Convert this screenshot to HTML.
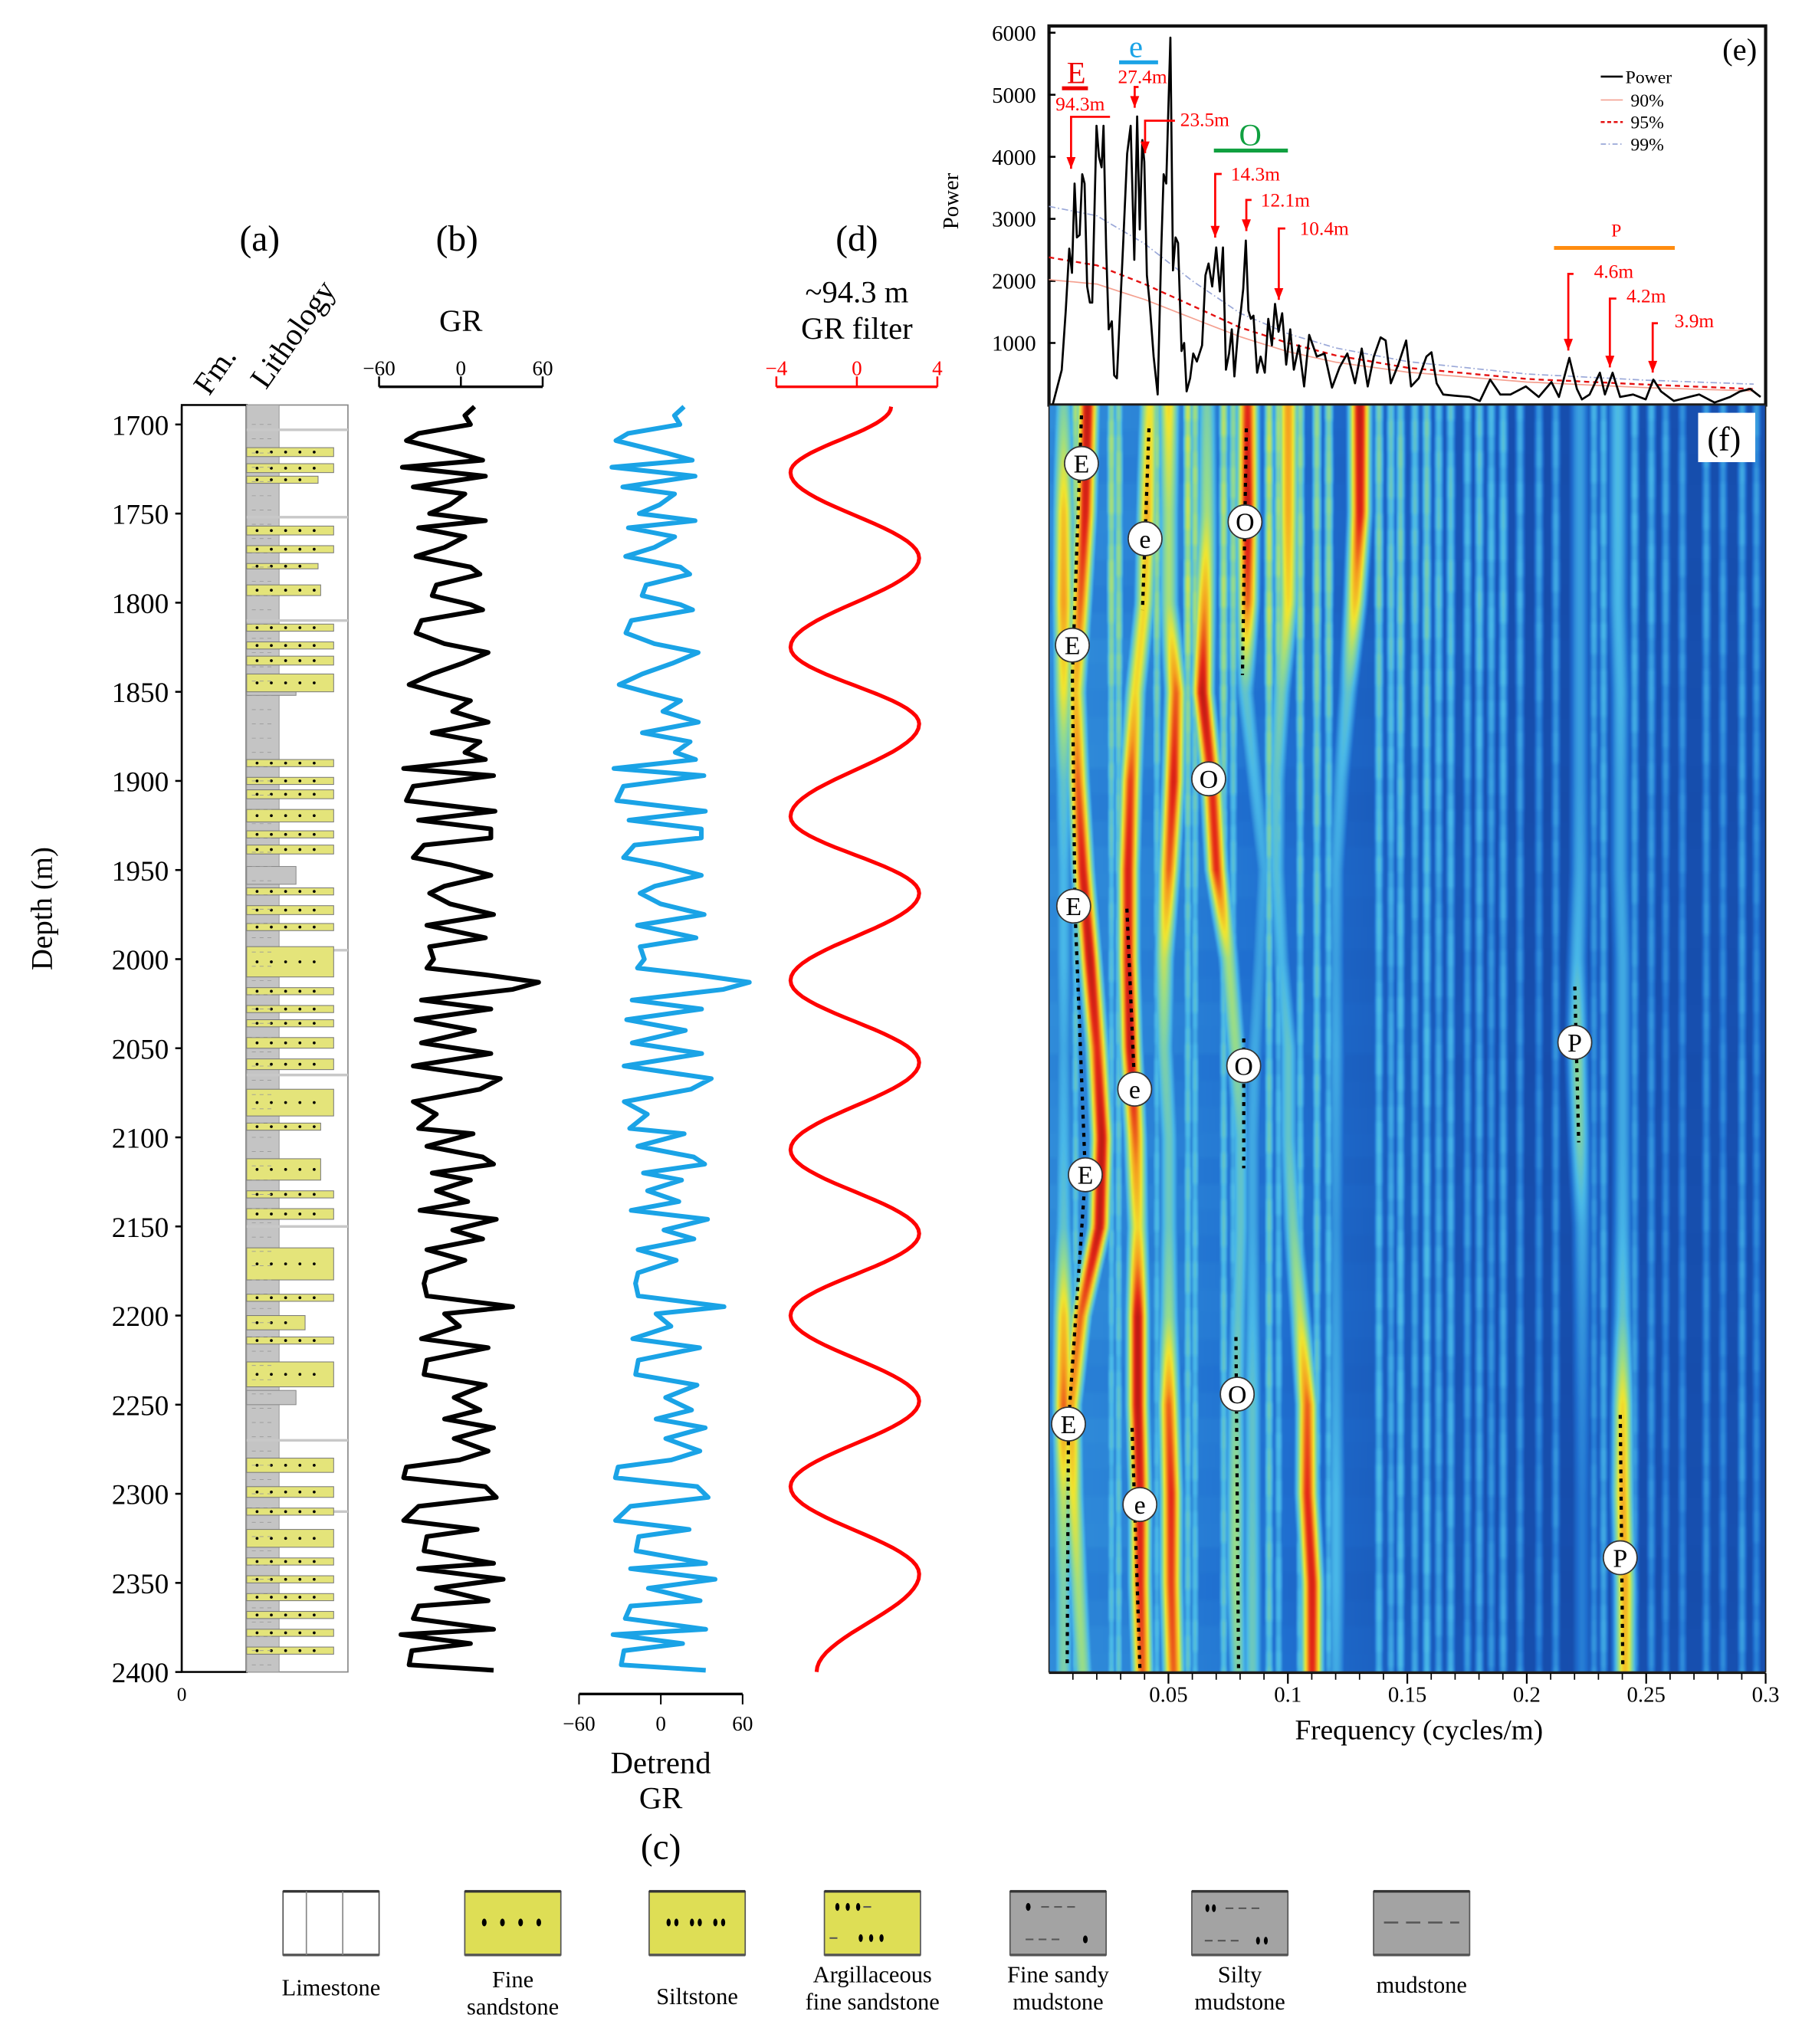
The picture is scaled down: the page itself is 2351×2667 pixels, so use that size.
<!DOCTYPE html>
<html><head><meta charset="utf-8"><style>
html,body{margin:0;padding:0;background:#fff;}
#wrap{position:relative;width:2351px;height:2667px;overflow:hidden;}
svg{position:absolute;left:0;top:0;}
#hm{position:absolute;image-rendering:auto;}
text{font-family:"Liberation Serif",serif;}
</style></head><body>
<div id="wrap">
<svg id="base" width="2351" height="2667" viewBox="0 0 1388 1574.6" preserveAspectRatio="none"></svg>
<canvas id="hm" width="552" height="244"></canvas>
<svg id="over" width="2351" height="2667" viewBox="0 0 1388 1574.6" preserveAspectRatio="none"></svg>
</div>
<script>
// ---------------- DATA ----------------
const grDepths=[1690,1695,1700,1705,1709,1716,1720,1724,1729,1735,1739,1745,1750,1754,1758,1763,1769,1774,1780,1784,1790,1796,1801,1804,1810,1817,1823,1828,1834,1840,1846,1851,1855,1861,1867,1873,1878,1884,1888,1893,1897,1903,1911,1917,1922,1927,1932,1936,1943,1947,1953,1959,1963,1969,1975,1981,1988,1993,2000,2005,2009,2013,2017,2023,2028,2034,2040,2047,2053,2060,2067,2073,2080,2087,2095,2098,2105,2111,2115,2120,2124,2130,2136,2141,2146,2152,2157,2163,2169,2176,2182,2189,2195,2199,2206,2213,2218,2225,2233,2239,2246,2253,2258,2263,2269,2276,2281,2285,2291,2296,2302,2307,2315,2320,2324,2332,2339,2342,2348,2353,2360,2363,2370,2376,2379,2384,2388,2396,2399];
const grValues=[10,3,7,-31,-40,-3,16,-43,18,-35,3,-8,-23,18,-31,3,-12,-33,7,14,-18,-21,7,16,-29,-33,-12,20,1,-21,-38,-14,7,-6,20,-21,14,3,18,-42,24,-35,-40,25,-31,22,22,-27,-35,-8,22,-12,-23,-8,24,-25,18,-23,-20,-25,20,57,38,-29,22,-33,10,-29,22,-35,29,14,-35,-18,-31,9,-25,16,24,-21,7,-18,5,-30,26,-6,16,-25,3,-25,-27,-25,38,-12,-1,-29,20,-25,-27,18,-5,14,-12,24,-5,20,-1,-40,-42,18,26,-31,-42,12,-25,-27,24,-31,31,-18,20,-31,-35,24,-44,7,-36,-38,24];
const trendDepths=[1690,2400];
const trendValues=[-7,-9];
const filtDepths=[1690,1727,1775,1825,1868,1920,1963,2012,2058,2107,2154,2200,2248,2296,2345,2400];
const filtValues=[1.7,-3.3,3.1,-3.3,3.1,-3.3,3.1,-3.3,3.1,-3.3,3.1,-3.3,3.1,-3.3,3.1,-2.0];
const depthTicks=[1700,1750,1800,1850,1900,1950,2000,2050,2100,2150,2200,2250,2300,2350,2400];
// spectrum
const specFreq=[.0015,.0053,.0070,.0085,.0096,.0107,.0117,.0128,.0139,.0149,.0160,.0171,.0181,.0199,.0209,.0220,.0228,.0239,.0250,.0263,.0273,.0284,.0310,.0327,.0342,.0357,.0369,.0380,.0391,.0399,.0410,.0421,.0438,.0455,.0470,.0480,.0491,.0508,.0519,.0530,.0540,.0555,.0566,.0576,.0591,.0604,.0619,.0641,.0655,.0668,.0683,.0700,.0715,.0728,.0741,.0754,.0765,.0776,.0790,.0803,.0813,.0824,.0835,.0845,.0856,.0871,.0886,.0903,.0918,.0933,.0946,.0961,.0976,.0993,.1010,.1025,.1046,.1068,.1089,.1121,.1153,.1185,.1217,.1249,.1281,.1309,.1334,.1360,.1388,.1409,.1431,.1462,.1495,.1516,.1548,.1580,.1601,.1623,.1650,.1697,.1761,.1804,.1847,.1889,.1932,.1996,.2050,.2103,.2135,.2178,.2210,.2231,.2263,.2306,.2327,.2359,.2391,.2445,.2498,.2530,.2562,.2616,.2680,.2722,.2786,.2851,.2893,.2936,.2979];
const specPower=[0,565,1520,2520,2130,3570,2700,2740,3720,3570,1910,1650,1650,4500,4000,3830,4500,2540,1220,1350,480,430,2540,4050,4500,2340,4650,2830,4270,3920,2090,1650,780,170,2540,3720,3570,5920,2170,2700,2610,870,1000,220,430,830,700,960,2090,2280,1910,2540,1830,2540,570,830,1220,460,1130,1520,1870,2650,1520,1390,1440,520,780,520,1390,960,1630,1180,1480,650,1220,570,960,300,1130,780,830,280,610,830,350,910,300,780,1090,1040,350,650,1040,300,430,780,850,350,170,150,130,65,410,170,170,300,130,370,130,760,260,90,170,520,170,520,130,170,90,410,220,65,130,170,40,130,220,260,130];
const confFreq=[0,.02,.04,.06,.08,.1,.12,.15,.2,.25,.3];
const conf99=[3200,3050,2600,2000,1480,1150,920,700,500,400,330];
const conf95=[2380,2250,1950,1600,1250,1000,800,600,420,330,250];
const conf90=[2020,1950,1700,1400,1100,860,690,530,370,280,220];
const powerTicks=[1000,2000,3000,4000,5000,6000];
const freqTicks=[0.05,0.1,0.15,0.2,0.25,0.3];
// heatmap ridges (depth nodes)
const hmDepths=[1690,1750,1800,1850,1900,1950,2000,2050,2100,2150,2200,2250,2300,2350,2400];
const ridgeE_f=[.016,.015,.013,.011,.012,.014,.017,.02,.022,.021,.013,.009,.01,.012,.014];
const ridgeE_i=[.95,.92,.85,.75,.85,.92,.95,.9,.95,.95,.85,.8,.7,.62,.6];
const ridgeE2_f=[.006,.006,.006,.006,.006,.006,.006,.006,.006,.006,.006,.006,.006,.006,.006];
const ridgeE2_i=[.55,.75,.8,.7,.5,.45,.45,.42,.45,.5,.75,.85,.65,.55,.55];
const ridgee_f=[.042,.041,.04,.036,.034,.033,.033,.034,.036,.037,.037,.037,.038,.038,.039];
const ridgee_i=[.7,.78,.72,.72,.88,.92,.92,.95,.85,.72,.95,.95,.92,.9,.85];
const ridge3_f=[.05,.05,.05,.053,.052,.05,.048,.048,.05,.05,.05,.05,.051,.051,.052];
const ridge3_i=[.72,.62,.62,.85,.92,.85,.65,.55,.52,.52,.6,.85,.9,.88,.85];
const ridgeO_f=[.066,.066,.065,.064,.068,.07,.075,.078,.08,.08,.079,.078,.078,.078,.079];
const ridgeO_i=[.55,.62,.8,.95,.9,.9,.62,.6,.5,.5,.5,.55,.6,.6,.55];
const ridge5_f=[.083,.083,.083,.082,.086,.09,.088,.086,.085,.085,.085,.085,.085,.085,.085];
const ridge5_i=[.9,.95,.85,.5,.45,.42,.4,.42,.42,.42,.45,.5,.5,.52,.52];
const ridge6_f=[.1,.1,.1,.097,.095,.095,.097,.1,.1,.102,.105,.108,.108,.11,.11];
const ridge6_i=[.8,.78,.72,.55,.5,.48,.45,.5,.5,.55,.65,.85,.9,.92,.9];
const ridge7_f=[.13,.13,.128,.125,.122,.12,.12,.12,.12,.12,.12,.12,.12,.12,.12];
const ridge7_i=[.95,.92,.75,.5,.44,.42,.4,.42,.4,.38,.4,.42,.45,.45,.42];
const ridgeP1_f=[.222,.222,.222,.222,.222,.222,.221,.221,.222,.223,.223,.223,.223,.223,.223];
const ridgeP1_i=[.4,.4,.4,.4,.4,.42,.45,.58,.55,.42,.38,.35,.33,.33,.33];
const ridgeP2_f=[.238,.238,.238,.239,.239,.239,.24,.24,.24,.24,.24,.24,.24,.241,.241];
const ridgeP2_i=[.46,.46,.45,.44,.42,.42,.42,.42,.42,.44,.5,.72,.78,.78,.75];
const texFreq=[.011,.026,.029,.045,.058,.061,.073,.077,.092,.096,.105,.112,.117,.138,.143,.147,.153,.158,.163,.168,.175,.18,.185,.19,.197,.205,.212,.228,.232,.245,.252,.258,.265,.275,.282,.29,.296];
const texIntUpper=[.62,.62,.6,.6,.66,.62,.64,.6,.66,.62,.6,.6,.58,.56,.52,.55,.5,.54,.5,.5,.46,.5,.46,.48,.44,.42,.42,.44,.45,.45,.44,.42,.4,.42,.4,.42,.4];
const texIntLower=[.5,.48,.5,.46,.5,.48,.5,.46,.52,.46,.48,.5,.46,.46,.42,.46,.42,.46,.42,.44,.4,.42,.38,.42,.38,.36,.38,.38,.42,.4,.38,.36,.36,.38,.36,.4,.36];
const upperWeight=[1,1,1,.6,.3,.15,0,0,0,0,0,0,0,0,0];
const bandMod=[1,.85,.7,.9,1,.95,.75,.6,.8,1,.9,.8,.95,1,.7,.55,.75,.95,1,.85,.9,.7,.8,1,.95,.65,.8,.9,1,.75];
const bgFreq=[0,.05,.1,.15,.2,.3];
const bgVal=[.36,.34,.3,.24,.19,.2];
// lithology beds [top,bottom,rightX] fine sandstone
const sandTop=[1713,1722,1729,1757,1768,1778,1790,1812,1822,1830,1840,1888,1898,1905,1916,1928,1936,1960,1970,1980,1993,2016,2026,2034,2044,2056,2073,2092,2112,2130,2140,2162,2188,2200,2212,2226,2280,2296,2308,2320,2336,2346,2356,2366,2376,2386];
const sandBot=[1718,1727,1733,1762,1772,1781,1796,1816,1826,1835,1850,1892,1902,1910,1923,1932,1941,1964,1975,1984,2010,2020,2030,2038,2050,2062,2088,2096,2124,2134,2146,2180,2192,2208,2216,2240,2288,2302,2312,2330,2340,2350,2360,2370,2380,2390];
const sandRight=[257,257,245,257,257,245,247,257,257,257,257,257,257,257,257,257,257,257,257,257,257,257,257,257,257,257,257,247,247,257,257,257,257,235,257,257,257,257,257,257,257,257,257,257,257,257];
const mudTop=[1846,1948,2242];
const mudBot=[1852,1958,2250];
const lineDepths=[1703,1752,1810,1995,2065,2150,2270,2310];

// ---------------- HELPERS ----------------
const NS="http://www.w3.org/2000/svg";
const base=document.getElementById('base');
const over=document.getElementById('over');
function el(tag,attrs,parent){const e=document.createElementNS(NS,tag);for(const k in attrs)e.setAttribute(k,attrs[k]);(parent||base).appendChild(e);return e;}
function txt(s,x,y,size,attrs,parent){const t=el('text',Object.assign({x:x,y:y,'font-size':size,'text-anchor':'middle'},attrs||{}),parent);t.textContent=s;return t;}
const yD=d=>327+(d-1700)*1.3729;
const xGR=v=>355+v*63/60;
const xDT=v=>509+v*63/60;
const xFL=v=>660+v*15.5;
const xF=f=>808+f*1840;
const yP=p=>312-p*0.0478;
function interp(xs,ys,x){if(x<=xs[0])return ys[0];for(let i=1;i<xs.length;i++){if(x<=xs[i]){const t=(x-xs[i-1])/(xs[i]-xs[i-1]);return ys[i-1]+t*(ys[i]-ys[i-1]);}}return ys[ys.length-1];}

// ---------------- PANEL LABELS ----------------
let t;
t=txt('(a)',200,193,28);
t=txt('(b)',352,193,28);
t=txt('(d)',660,193,28);
t=txt('GR',355,255,24);
t=txt('~94.3 m',660,233,24);
t=txt('GR filter',660,261,24);
t=txt('Fm.',172,290,24,{transform:'rotate(-55 172 290)','text-anchor':'middle'});
t=txt('Lithology',232,262,24,{transform:'rotate(-55 232 262)'});
t=txt('Depth (m)',40,700,23,{transform:'rotate(-90 40 700)'});
t=txt('Upper Zhujiang Fomation',172,800,30,{transform:'rotate(-90 172 800)'});
t=txt('Detrend',509,1366,24);
t=txt('GR',509,1393,24);
t=txt('(c)',509,1432,28);

// depth axis
const dAxis=el('g',{});
el('line',{x1:140,y1:yD(1690),x2:140,y2:1288,stroke:'#000','stroke-width':1.5},dAxis);
depthTicks.forEach(d=>{
  el('line',{x1:135,y1:yD(d),x2:140,y2:yD(d),stroke:'#000','stroke-width':1.5},dAxis);
  const tl=txt(String(d),130,yD(d)+8,22,{'text-anchor':'end'},dAxis);
  
  
});
t=txt('0',140,1310,15,{},dAxis);

// Fm & lithology columns
const lith=el('g',{});
el('rect',{x:140,y:312,width:50,height:976,fill:'#fff',stroke:'#000','stroke-width':1.5},lith);
el('rect',{x:190,y:312,width:78,height:976,fill:'#fff',stroke:'#888','stroke-width':1},lith);
el('rect',{x:190,y:312,width:25,height:976,fill:'#c4c4c4',stroke:'#999','stroke-width':0.6},lith);
lineDepths.forEach(d=>{el('line',{x1:190,y1:yD(d),x2:268,y2:yD(d),stroke:'#c8c8c8','stroke-width':2},lith);});
for(let i=0;i<mudTop.length;i++){el('rect',{x:190,y:yD(mudTop[i]),width:38,height:yD(mudBot[i])-yD(mudTop[i]),fill:'#c4c4c4',stroke:'#888','stroke-width':0.6},lith);}
for(let i=0;i<sandTop.length;i++){
  const y0=yD(sandTop[i]),h=yD(sandBot[i])-y0;
  const r=el('rect',{x:190,y:y0,width:sandRight[i]-190,height:h,fill:'#e4e47a',stroke:'#777','stroke-width':0.6},lith);
  
  
  for(let x=198;x<sandRight[i]-4;x+=11){el('circle',{cx:x,cy:y0+h/2,r:1.1,fill:'#000'},lith);}
}
for(let d=1700;d<2400;d+=8){el('line',{x1:194,y1:yD(d),x2:212,y2:yD(d),stroke:'#999','stroke-width':0.5,'stroke-dasharray':'3 3'},lith);}

// GR axis
const grAx=el('g',{});
el('line',{x1:xGR(-60),y1:298,x2:xGR(60),y2:298,stroke:'#000','stroke-width':2},grAx);
[-60,0,60].forEach(v=>{el('line',{x1:xGR(v),y1:298,x2:xGR(v),y2:290,stroke:'#000','stroke-width':1.5},grAx);txt(v<0?'\u221260':String(v),xGR(v),289,16,{},grAx);});
// GR curve
let dp='';
for(let i=0;i<grDepths.length;i++){dp+=(i?'L':'M')+xGR(grValues[i]).toFixed(1)+' '+yD(grDepths[i]).toFixed(1);}
const grLine=el('path',{d:dp,fill:'none',stroke:'#000','stroke-width':3.6,'stroke-linejoin':'round'});

// Detrend curve
dp='';
for(let i=0;i<grDepths.length;i++){const v=grValues[i]-interp(trendDepths,trendValues,grDepths[i]);dp+=(i?'L':'M')+xDT(v).toFixed(1)+' '+yD(grDepths[i]).toFixed(1);}
const dtLine=el('path',{d:dp,fill:'none',stroke:'#1aa3e6','stroke-width':3.6,'stroke-linejoin':'round'});

const dtAx=el('g',{});
el('line',{x1:xDT(-60),y1:1305,x2:xDT(60),y2:1305,stroke:'#000','stroke-width':2},dtAx);
[-60,0,60].forEach(v=>{el('line',{x1:xDT(v),y1:1305,x2:xDT(v),y2:1313,stroke:'#000','stroke-width':1.2},dtAx);txt(v<0?'\u221260':String(v),xDT(v),1333,16,{},dtAx);});
// Filter axis + curve
const flAx=el('g',{});
el('line',{x1:xFL(-4),y1:298,x2:xFL(4),y2:298,stroke:'#f00','stroke-width':2},flAx);
[-4,0,4].forEach(v=>{el('line',{x1:xFL(v),y1:298,x2:xFL(v),y2:290,stroke:'#f00','stroke-width':1.5},flAx);txt(v<0?'\u22124':String(v),xFL(v),289,16,{fill:'#f00'},flAx);});
dp='';
for(let i=0;i<filtDepths.length-1;i++){
  for(let k=0;k<=20;k++){const s=k/20;const d=filtDepths[i]+s*(filtDepths[i+1]-filtDepths[i]);const v=filtValues[i]+(filtValues[i+1]-filtValues[i])*(1-Math.cos(Math.PI*s))/2;dp+=(dp?'L':'M')+xFL(v).toFixed(1)+' '+yD(d).toFixed(1);}
}
const flLine=el('path',{d:dp,fill:'none',stroke:'#f00','stroke-width':3});


// ---------------- SPECTRUM (e) ----------------
const spec=el('g',{});
el('rect',{x:808,y:20,width:552,height:292,fill:'#fff',stroke:'#111','stroke-width':2.5},spec);
t=txt('Power',738,155,17,{transform:'rotate(-90 738 155)'},spec);
powerTicks.forEach(p=>{el('line',{x1:808,y1:yP(p),x2:813,y2:yP(p),stroke:'#000','stroke-width':1.5},spec);const l=txt(String(p),798,yP(p)+6,17,{'text-anchor':'end'},spec);});
function confPath(arr,attrs,name){let d='';for(let f=0;f<=0.3;f+=0.005){d+=(d?'L':'M')+xF(f).toFixed(1)+' '+yP(interp(confFreq,arr,f)).toFixed(1);}const p=el('path',Object.assign({d:d,fill:'none'},attrs),spec);}
confPath(conf90,{stroke:'#f4a090','stroke-width':1},'conf-90-line');
confPath(conf95,{stroke:'#e41010','stroke-width':1.4,'stroke-dasharray':'4 3'},'conf-95-line');
confPath(conf99,{stroke:'#9aa8d8','stroke-width':1,'stroke-dasharray':'5 2 1 2'},'conf-99-line');
dp='';
for(let i=0;i<specFreq.length;i++){dp+=(i?'L':'M')+xF(specFreq[i]).toFixed(1)+' '+yP(specPower[i]).toFixed(1);}
const sp=el('path',{d:dp,fill:'none',stroke:'#000','stroke-width':1.6,'stroke-linejoin':'round'},spec);

t=txt('(e)',1340,46,24,{},spec);
// legend
const lg=el('g',{},spec);
el('line',{x1:1233,y1:59,x2:1250,y2:59,stroke:'#000','stroke-width':1.5},lg);txt('Power',1252,64,14,{'text-anchor':'start'},lg);
el('line',{x1:1233,y1:77,x2:1250,y2:77,stroke:'#f4a090','stroke-width':1},lg);txt('90%',1256,82,14,{'text-anchor':'start'},lg);
el('line',{x1:1233,y1:94,x2:1250,y2:94,stroke:'#e41010','stroke-width':1.5,'stroke-dasharray':'3 2'},lg);txt('95%',1256,99,14,{'text-anchor':'start'},lg);
el('line',{x1:1233,y1:111,x2:1250,y2:111,stroke:'#9aa8d8','stroke-width':1,'stroke-dasharray':'4 2 1 2'},lg);txt('99%',1256,116,14,{'text-anchor':'start'},lg);
// annotations
const an=el('g',{},spec);
function arrow(pts){let d='';pts.forEach((p,i)=>d+=(i?'L':'M')+p[0]+' '+p[1]);el('path',{d:d,fill:'none',stroke:'#f00','stroke-width':1.6},an);const e=pts[pts.length-1];el('path',{d:`M${e[0]-3.5} ${e[1]-9}L${e[0]+3.5} ${e[1]-9}L${e[0]} ${e[1]}Z`,fill:'#f00'},an);}
txt('E',829,64,24,{fill:'#e00'},an);el('line',{x1:818,y1:68,x2:838,y2:68,stroke:'#e00','stroke-width':3},an);
txt('94.3m',832,85,15,{fill:'#f00'},an);arrow([[855,90],[825,90],[825,130]]);
txt('e',875,44,24,{fill:'#1aa3e6'},an);el('line',{x1:862,y1:48,x2:892,y2:48,stroke:'#1aa3e6','stroke-width':3},an);
txt('27.4m',880,64,15,{fill:'#f00'},an);arrow([[877,67],[874,67],[874,83]]);
txt('23.5m',928,97,15,{fill:'#f00'},an);arrow([[905,93],[882,93],[882,118]]);
txt('O',963,112,24,{fill:'#10a040'},an);el('line',{x1:935,y1:116,x2:992,y2:116,stroke:'#10a040','stroke-width':3},an);
txt('14.3m',967,139,15,{fill:'#f00'},an);arrow([[941,134],[936,134],[936,183]]);
txt('12.1m',990,159,15,{fill:'#f00'},an);arrow([[964,154],[960,154],[960,178]]);
txt('10.4m',1020,181,15,{fill:'#f00'},an);arrow([[990,176],[985,176],[985,231]]);
txt('P',1245,182,14,{fill:'#f00'},an);el('line',{x1:1197,y1:191,x2:1290,y2:191,stroke:'#ff8c10','stroke-width':3},an);
txt('4.6m',1243,214,15,{fill:'#f00'},an);arrow([[1212,211],[1208,211],[1208,270]]);
txt('4.2m',1268,233,15,{fill:'#f00'},an);arrow([[1245,230],[1240,230],[1240,283]]);
txt('3.9m',1305,252,15,{fill:'#f00'},an);arrow([[1277,249],[1273,249],[1273,287]]);

// frequency axis
const fx=el('g',{});
el('line',{x1:808,y1:1289,x2:1360,y2:1289,stroke:'#000','stroke-width':1},fx);
for(let f=0.01;f<=0.3001;f+=0.01){el('line',{x1:xF(f),y1:1289,x2:xF(f),y2:1294,stroke:'#000','stroke-width':1},fx);}
freqTicks.forEach(f=>{el('line',{x1:xF(f),y1:1289,x2:xF(f),y2:1297,stroke:'#000','stroke-width':1.3},fx);const l=txt(String(f),xF(f),1311,17,{},fx);});
t=txt('Frequency  (cycles/m)',1093,1340,22,{'font-family':'"Liberation Sans",sans-serif'},fx);

// ---------------- LEGEND (lithology key) ----------------
const key=el('g',{});
const keyX=[218,358,500,635,778,918,1058];
const keyLabels=[['Limestone'],['Fine','sandstone'],['Siltstone'],['Argillaceous','fine sandstone'],['Fine sandy','mudstone'],['Silty','mudstone'],['mudstone']];
const keyFill=['#fff','#dede55','#dede55','#dede55','#a3a3a3','#a3a3a3','#a3a3a3'];
const keyLabelY=[[1537],[1531,1552],[1544],[1527,1548],[1527,1548],[1527,1548],[1535]];
keyX.forEach((x,i)=>{
  const g=el('g',{},key);
  
  
  el('rect',{x:x,y:1457,width:74,height:49,fill:keyFill[i],stroke:'#555','stroke-width':1},g);
  el('line',{x1:x,y1:1457,x2:x+74,y2:1457,stroke:'#333','stroke-width':2},g);
  el('line',{x1:x,y1:1506,x2:x+74,y2:1506,stroke:'#555','stroke-width':2},g);
  const c=x+37;
  if(i===0){el('line',{x1:x+18,y1:1457,x2:x+18,y2:1506,stroke:'#888'},g);el('line',{x1:x+46,y1:1457,x2:x+46,y2:1506,stroke:'#888'},g);}
  if(i===1){for(let k=0;k<4;k++)el('ellipse',{cx:x+15+k*14,cy:1481,rx:1.8,ry:3,fill:'#000'},g);}
  if(i===2){[12,18,30,36,48,54].forEach(o=>el('ellipse',{cx:x+o+3,cy:1481,rx:1.6,ry:3,fill:'#000'},g));}
  if(i===3){[10,18,26].forEach(o=>el('ellipse',{cx:x+o,cy:1469,rx:1.6,ry:3,fill:'#000'},g));el('line',{x1:x+30,y1:1469,x2:x+36,y2:1469,stroke:'#555','stroke-width':1.2},g);el('line',{x1:x+4,y1:1493,x2:x+10,y2:1493,stroke:'#555','stroke-width':1.2},g);[14,22,30].forEach(o=>el('ellipse',{cx:x+o+14,cy:1493,rx:1.6,ry:3,fill:'#000'},g));}
  if(i===4){el('ellipse',{cx:x+14,cy:1469,rx:1.8,ry:3,fill:'#000'},g);el('line',{x1:x+24,y1:1469,x2:x+52,y2:1469,stroke:'#555','stroke-width':1.2,'stroke-dasharray':'6 4'},g);el('line',{x1:x+12,y1:1494,x2:x+40,y2:1494,stroke:'#555','stroke-width':1.2,'stroke-dasharray':'6 4'},g);el('ellipse',{cx:x+58,cy:1494,rx:1.8,ry:3,fill:'#000'},g);}
  if(i===5){[12,17].forEach(o=>el('ellipse',{cx:x+o,cy:1470,rx:1.5,ry:3,fill:'#000'},g));el('line',{x1:x+26,y1:1470,x2:x+54,y2:1470,stroke:'#555','stroke-width':1.2,'stroke-dasharray':'6 4'},g);el('line',{x1:x+10,y1:1495,x2:x+40,y2:1495,stroke:'#555','stroke-width':1.2,'stroke-dasharray':'6 4'},g);[51,57].forEach(o=>el('ellipse',{cx:x+o,cy:1495,rx:1.5,ry:3,fill:'#000'},g));}
  if(i===6){el('line',{x1:x+8,y1:1481,x2:x+66,y2:1481,stroke:'#555','stroke-width':1.5,'stroke-dasharray':'11 6'},g);}
  keyLabels[i].forEach((s,j)=>txt(s,c,keyLabelY[i][j],18,{},g));
});

// ---------------- HEATMAP ----------------
const S=2351/1388;
const cv=document.getElementById('hm');
cv.style.left=(808*S)+'px';cv.style.top=(312*S)+'px';cv.style.width=(552*S)+'px';cv.style.height=(976*S)+'px';
const ridges=[[ridgeE_f,ridgeE_i],[ridgeE2_f,ridgeE2_i],[ridgee_f,ridgee_i],[ridge3_f,ridge3_i],[ridgeO_f,ridgeO_i],[ridge5_f,ridge5_i],[ridge6_f,ridge6_i],[ridge7_f,ridge7_i],[ridgeP1_f,ridgeP1_i],[ridgeP2_f,ridgeP2_i]];
const cStops=[0,.2,.3,.45,.6,.7,.8,.9,1];
const cCols=[[11,42,122],[23,80,176],[31,111,208],[73,184,232],[150,220,140],[240,230,48],[245,160,32],[228,40,24],[154,16,16]];
function cmap(v){v=Math.max(0,Math.min(1,v));for(let i=1;i<cStops.length;i++){if(v<=cStops[i]){const t=(v-cStops[i-1])/(cStops[i]-cStops[i-1]);return cCols[i-1].map((c,k)=>c+t*(cCols[i][k]-c));}}return cCols[cCols.length-1];}
const ctx=cv.getContext('2d');
const W=cv.width,H=cv.height;
const img=ctx.createImageData(W,H);
const dTop=1700+(312-327)/1.3729,dBot=1700+(1288-327)/1.3729;
for(let r=0;r<H;r++){
  const d=dTop+(r+0.5)/H*(dBot-dTop);
  const rf=ridges.map(rg=>[interp(hmDepths,rg[0],d),interp(hmDepths,rg[1],d)]);
  const uw=interp(hmDepths,upperWeight,d);
  const ti=texFreq.map((f,k)=>{const base=texIntUpper[k]*uw+texIntLower[k]*(1-uw);const m=bandMod[(Math.floor(r/3)+k*7)%bandMod.length];return base*(0.75+0.25*m);});
  const rm=bandMod[Math.floor(r/5)%bandMod.length];
  for(let c=0;c<W;c++){
    const f=(c+0.5)/W*0.3;
    let v=interp(bgFreq,bgVal,f)*(0.85+0.15*rm);
    for(const [rfq,ri] of rf){const g=ri*Math.exp(-Math.pow((f-rfq)/0.0055,2));if(g>v)v=g;}
    for(let k=0;k<texFreq.length;k++){const g=ti[k]*Math.exp(-Math.pow((f-texFreq[k])/0.0028,2));if(g>v)v=g;}
    const col=cmap(v);const o=(r*W+c)*4;
    img.data[o]=col[0];img.data[o+1]=col[1];img.data[o+2]=col[2];img.data[o+3]=255;
  }
}
ctx.putImageData(img,0,0);

// overlay: dotted ridge lines + labels
const dots=[[[833,320],[826,520],[828,700],[836,905],[823,1097],[822,1285]],[[885,330],[880,470]],[[868,700],[874,839]],[[872,1100],[878,1285]],[[960,330],[957,520]],[[958,800],[958,900]],[[952,1030],[954,1285]],[[1213,760],[1216,880]],[[1248,1090],[1250,1285]]];
dots.forEach(pts=>{let d='';pts.forEach((p,i)=>d+=(i?'L':'M')+p[0]+' '+p[1]);const p=el('path',{d:d,fill:'none',stroke:'#000','stroke-width':2.5,'stroke-dasharray':'3 4'},over);});
const circ=[['E',833,357],['e',882,415],['O',959,402],['E',826,497],['O',931,600],['E',827,698],['P',1213,803],['O',958,821],['e',874,839],['E',836,905],['O',953,1074],['E',823,1097],['e',878,1159],['P',1248,1200]];
circ.forEach(c=>{const g=el('g',{},over);el('circle',{cx:c[1],cy:c[2],r:13,fill:'#fff',stroke:'#333','stroke-width':1},g);txt(c[0],c[1],c[2]+7,20,{},g);});
const fb=el('g',{},over);
el('rect',{x:1308,y:318,width:44,height:38,fill:'#fff'},fb);txt('(f)',1328,347,26,{},fb);
el('rect',{x:808,y:312,width:552,height:976,fill:'none',stroke:'#222','stroke-width':1},over);
</script>
</body></html>
